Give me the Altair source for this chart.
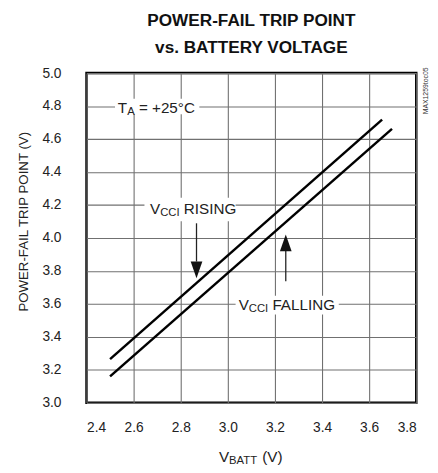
import altair as alt
import pandas as pd

# ---- data ----
rising_x = [2.50, 3.655]
rising_y = [3.265, 4.718]
falling_x = [2.50, 3.697]
falling_y = [3.161, 4.662]

x_ticks = [2.4, 2.6, 2.8, 3.0, 3.2, 3.4, 3.6, 3.8]
y_ticks = [3.0, 3.2, 3.4, 3.6, 3.8, 4.0, 4.2, 4.4, 4.6, 4.8, 5.0]

title_lines = ["POWER-FAIL TRIP POINT", "vs. BATTERY VOLTAGE"]
y_title = "POWER-FAIL TRIP POINT (V)"

# annotation texts (main, subscript, rest)
ann_main = ["T", "V", "V"]
ann_sub = ["A", "CCI", "CCI"]
ann_rest = ["= +25°C", "RISING", "FALLING"]
ann_x = [2.533, 2.670, 3.046]
ann_y = [4.760, 4.146, 3.563]
ann_sub_dx = [9.5, 10.3, 10.3]
ann_rest_dx = [21.5, 34.4, 34.4]

# white masks behind annotation texts
mask_x1 = [2.521, 2.646, 3.033]
mask_x2 = [2.879, 3.033, 3.471]
mask_y1 = [4.750, 4.101, 3.536]
mask_y2 = [4.845, 4.244, 3.649]

# arrows
arrow_x = [2.867, 3.246]
arrow_shaft_y1 = [4.089, 3.923]
arrow_shaft_y2 = [3.857, 3.738]
arrow_head_y = [3.807, 3.970]
arrow_dir = ["down", "up"]

FONT = "Liberation Sans, Arial, sans-serif"
W, H = 336, 336
TXT = "#222"

lines_df = pd.DataFrame({
    "x": rising_x + falling_x,
    "y": rising_y + falling_y,
    "s": ["rising"] * len(rising_x) + ["falling"] * len(falling_x),
})
ann_df = pd.DataFrame({"x": ann_x, "y": ann_y, "main": ann_main, "sub": ann_sub,
                       "rest": ann_rest})
mask_df = pd.DataFrame({"x1": mask_x1, "x2": mask_x2, "y1": mask_y1, "y2": mask_y2})
arrow_df = pd.DataFrame({"x": arrow_x, "y1": arrow_shaft_y1, "y2": arrow_shaft_y2,
                         "hy": arrow_head_y, "dir": arrow_dir})

xs = alt.Scale(domain=[2.4, 3.8], nice=False, zero=False)
ys = alt.Scale(domain=[3.0, 5.0], nice=False, zero=False)

GRID = "#707070"
xaxis = alt.Axis(values=x_ticks, format=".1f", title=None, grid=True, gridColor=GRID,
                 gridWidth=1.1, gridOpacity=1, ticks=False, domain=False, labelFont=FONT,
                 labelFontSize=14, labelColor=TXT, labelPadding=18, labelOverlap=False,
                 tickCount=8)
yaxis = alt.Axis(values=y_ticks, format=".1f", title=y_title, grid=True, gridColor=GRID,
                 gridWidth=1.1, gridOpacity=1, ticks=False, domain=False, labelFont=FONT,
                 labelFontSize=14, labelColor=TXT, labelPadding=26, labelOverlap=False,
                 tickCount=11,
                 titleFont=FONT, titleFontSize=13.5, titleFontWeight="normal", titleColor=TXT,
                 titleX=-64, titleY=151, titleAngle=-90, titleAlign="center",
                 titleBaseline="middle")


def X(f):
    return alt.X(f, type="quantitative", scale=xs, axis=xaxis)


def Y(f):
    return alt.Y(f, type="quantitative", scale=ys, axis=yaxis)


base_lines = alt.Chart(lines_df).mark_line(color="black", strokeWidth=2.5).encode(
    x=X("x"), y=Y("y"), detail="s:N",
)

masks = alt.Chart(mask_df).mark_rect(color="white", opacity=1).encode(
    x=X("x1"), x2="x2:Q", y=Y("y1"), y2="y2:Q",
)

layers_txt = []
for i in range(len(ann_df)):
    row = ann_df.iloc[[i]]
    layers_txt.append(alt.Chart(row).mark_text(font=FONT, fontSize=15.5, align="left",
                                               baseline="alphabetic", color=TXT).encode(
        x=X("x"), y=Y("y"), text="main:N"))
    layers_txt.append(alt.Chart(row).mark_text(font=FONT, fontSize=11.5, align="left",
                                               baseline="alphabetic", color=TXT,
                                               dx=float(ann_sub_dx[i]), dy=2).encode(
        x=X("x"), y=Y("y"), text="sub:N"))
    layers_txt.append(alt.Chart(row).mark_text(font=FONT, fontSize=15.5, align="left",
                                               baseline="alphabetic", color=TXT,
                                               dx=float(ann_rest_dx[i])).encode(
        x=X("x"), y=Y("y"), text="rest:N"))

shafts = alt.Chart(arrow_df).mark_rule(color="#222", strokeWidth=1.3).encode(
    x=X("x"), y=Y("y1"), y2="y2:Q")
head_down = alt.Chart(arrow_df[arrow_df.dir == "down"]).mark_point(
    shape="M-0.7,-1L0.7,-1L0,1Z", size=289, filled=True, color="#111", opacity=1).encode(
    x=X("x"), y=Y("hy"))
head_up = alt.Chart(arrow_df[arrow_df.dir == "up"]).mark_point(
    shape="M-0.7,1L0.7,1L0,-1Z", size=289, filled=True, color="#111", opacity=1).encode(
    x=X("x"), y=Y("hy"))

# x axis title with subscript
xt_v = alt.Chart(pd.DataFrame({"t": ["V"]})).mark_text(font=FONT, fontSize=15.5, align="left",
                                                       baseline="alphabetic", color=TXT).encode(
    x=alt.value(135), y=alt.value(396), text="t:N")
xt_sub = alt.Chart(pd.DataFrame({"t": ["BATT"]})).mark_text(font=FONT, fontSize=11.5, align="left",
                                                            baseline="alphabetic", color=TXT).encode(
    x=alt.value(145.3), y=alt.value(398), text="t:N")
xt_rest = alt.Chart(pd.DataFrame({"t": ["(V)"]})).mark_text(font=FONT, fontSize=15.5, align="left",
                                                            baseline="alphabetic", color=TXT).encode(
    x=alt.value(179), y=alt.value(396), text="t:N")

# chart title (two lines)
title1 = alt.Chart(pd.DataFrame({"t": [title_lines[0]]})).mark_text(
    font=FONT, fontSize=17.5, fontWeight="bold", align="center", baseline="middle",
    color="#111").encode(x=alt.value(168), y=alt.value(-53), text="t:N")
title2 = alt.Chart(pd.DataFrame({"t": [title_lines[1]]})).mark_text(
    font=FONT, fontSize=17.5, fontWeight="bold", align="center", baseline="middle",
    color="#111").encode(x=alt.value(168), y=alt.value(-25), text="t:N")

side = alt.Chart(pd.DataFrame({"t": ["MAX1259toc05"]})).mark_text(
    font=FONT, fontSize=7, angle=270, align="left", baseline="middle", color="#333").encode(
    x=alt.value(346), y=alt.value(42), text="t:N")

chart = alt.layer(
    base_lines, masks, *layers_txt, shafts, head_down, head_up,
    xt_v, xt_sub, xt_rest, title1, title2, side
).properties(
    width=W, height=H,
    autosize=alt.AutoSizeParams(type="none"),
    padding={"left": 80, "top": 62, "right": 14, "bottom": 59},
).configure_view(stroke="black", strokeWidth=2.5)

chart.save("out.html", embed_options={"renderer": "svg", "actions": False})
